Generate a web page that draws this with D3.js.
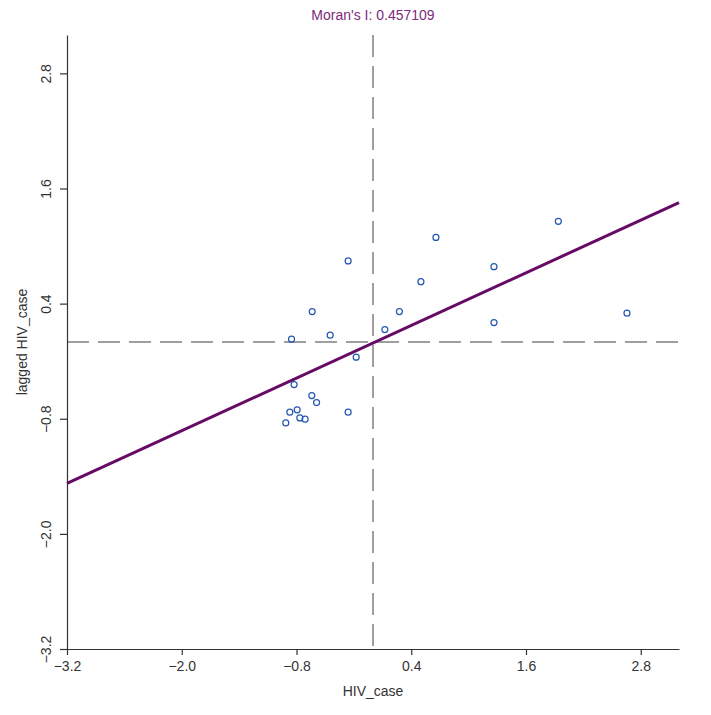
<!DOCTYPE html>
<html>
<head>
<meta charset="utf-8">
<script src="https://cdn.jsdelivr.net/npm/d3@7"></script>
<style>
  body { margin: 0; background: #fff; }
  text { font-family: "Liberation Sans", Arial, sans-serif; }
</style>
</head>
<body>
<div id="chart"></div>
<script>
// Moran scatter plot: standardized HIV_case vs its spatial lag
const hivCase = [-0.26, -0.636, 0.501, 0.658, 0.276, 0.124, -0.852, -0.448, -0.176, -0.825, -0.64,
  -0.59, -0.26, -0.87, -0.793, -0.912, -0.765, -0.71, 1.938, 1.265, 1.265, 2.656];
const laggedCase = [0.845, 0.317, 0.629, 1.09, 0.317, 0.129, 0.029, 0.071, -0.158, -0.444, -0.558,
  -0.631, -0.731, -0.731, -0.707, -0.843, -0.791, -0.804, 1.258, 0.785, 0.202, 0.3];
const tickValues = [-3.2, -2.0, -0.8, 0.4, 1.6, 2.8];
const moranI = 0.457109;
const fitIntercept = -0.01;

const w = 711;
const h = 715;
const margin = { top: 35, right: 32, bottom: 66, left: 67 };

const points = hivCase.map((x, i) => ({ x, y: laggedCase[i] }));

const xScale = d3.scaleLinear()
  .domain([-3.2, 3.2])
  .range([margin.left, w - margin.right]);

const yScale = d3.scaleLinear()
  .domain([-3.2, 3.2])
  .range([h - margin.bottom, margin.top]);

const svg = d3.select('#chart')
  .append('svg')
  .attr('width', w)
  .attr('height', h);

// title
svg.append('text')
  .attr('x', xScale(0))
  .attr('y', 20)
  .attr('text-anchor', 'middle')
  .attr('font-size', 14)
  .attr('fill', '#7d2a7d')
  .text(`Moran's I: ${moranI}`);

// mean lines
svg.append('line')
  .attr('x1', xScale(0)).attr('x2', xScale(0))
  .attr('y1', yScale.range()[1]).attr('y2', yScale.range()[0])
  .attr('stroke', '#808080')
  .attr('stroke-width', 1.5)
  .attr('stroke-dasharray', '22,9');

svg.append('line')
  .attr('x1', xScale.range()[0]).attr('x2', xScale.range()[1])
  .attr('y1', yScale(0)).attr('y2', yScale(0))
  .attr('stroke', '#808080')
  .attr('stroke-width', 1.5)
  .attr('stroke-dasharray', '22,9');

// axes
const xAxis = d3.axisBottom(xScale)
  .tickValues(tickValues)
  .tickFormat(d3.format('.1f'))
  .tickSize(6)
  .tickSizeOuter(0)
  .tickPadding(6);

const yAxis = d3.axisLeft(yScale)
  .tickValues(tickValues)
  .tickFormat(d3.format('.1f'))
  .tickSize(7)
  .tickSizeOuter(0);

svg.append('g')
  .classed('x-axis', true)
  .attr('transform', `translate(0, ${yScale(-3.2)})`)
  .call(xAxis);

svg.append('g')
  .classed('y-axis', true)
  .attr('transform', `translate(${xScale(-3.2)}, 0)`)
  .call(yAxis);

svg.selectAll('.domain, .tick line')
  .attr('stroke', '#333')
  .attr('stroke-width', 1.2);

svg.selectAll('.tick text')
  .attr('fill', '#333')
  .attr('font-size', 14)
  .attr('font-family', '"Liberation Sans", Arial, sans-serif');

svg.selectAll('.y-axis .tick text')
  .attr('x', null)
  .attr('dy', null)
  .attr('text-anchor', 'middle')
  .attr('transform', 'translate(-16, 0) rotate(-90)');

// axis titles
svg.append('text')
  .attr('x', xScale(0))
  .attr('y', 696)
  .attr('text-anchor', 'middle')
  .attr('font-size', 14)
  .attr('fill', '#333')
  .text('HIV_case');

svg.append('text')
  .attr('transform', `translate(27, ${yScale(0)}) rotate(-90)`)
  .attr('text-anchor', 'middle')
  .attr('font-size', 14)
  .attr('fill', '#333')
  .text('lagged HIV_case');

// regression line
const fit = d3.line()
  .x(d => xScale(d))
  .y(d => yScale(fitIntercept + moranI * d));

svg.append('path')
  .datum(xScale.domain())
  .attr('fill', 'none')
  .attr('stroke', '#660a66')
  .attr('stroke-width', 3)
  .attr('d', fit);

// points
svg.selectAll('.pt')
  .data(points)
  .enter()
  .append('circle')
  .attr('class', 'pt')
  .attr('cx', d => xScale(d.x))
  .attr('cy', d => yScale(d.y))
  .attr('r', 3)
  .attr('fill', 'none')
  .attr('stroke', '#2456b4')
  .attr('stroke-width', 1.2);
</script>
</body>
</html>
